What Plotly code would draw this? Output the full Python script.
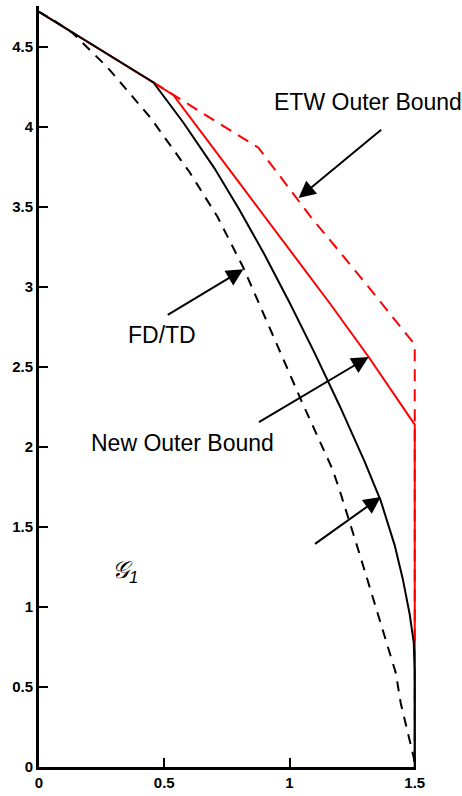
import plotly.graph_objects as go

# Region boundaries (x: rate R1, y: rate R2)
g1_x = [0, 0.456, 0.576, 0.7, 0.8, 0.9, 1.0, 1.1, 1.2, 1.3, 1.364, 1.42, 1.452, 1.48, 1.496, 1.5, 1.5]
g1_y = [4.72, 4.28, 4.028, 3.743, 3.483, 3.203, 2.903, 2.588, 2.258, 1.908, 1.665, 1.385, 1.177, 0.953, 0.777, 0.6, 0]

fdtd_x = [0, 0.06, 0.132, 0.272, 0.444, 0.472, 0.6, 0.712, 0.816, 0.95, 1.05, 1.172, 1.204, 1.28, 1.364, 1.424, 1.444, 1.47, 1.496, 1.5]
fdtd_y = [4.72, 4.665, 4.59, 4.375, 4.06, 4.0, 3.72, 3.44, 3.12, 2.64, 2.28, 1.86, 1.71, 1.33, 0.9, 0.59, 0.4, 0.23, 0.06, 0]

new_x = [0, 0.456, 0.536, 0.8, 1.0, 1.16, 1.316, 1.4, 1.5, 1.5]
new_y = [4.72, 4.28, 4.2, 3.65, 3.23, 2.9, 2.5625, 2.37, 2.14, 0]

etw_x = [0.456, 0.536, 0.7, 0.876, 1.084, 1.3, 1.5, 1.5]
etw_y = [4.28, 4.2, 4.04, 3.87, 3.44, 3.03, 2.64, 0]

x_ticks = [0, 0.5, 1, 1.5]
y_ticks = [0, 0.5, 1, 1.5, 2, 2.5, 3, 3.5, 4, 4.5]

fig = go.Figure()
fig.add_trace(go.Scatter(x=etw_x, y=etw_y, mode="lines",
                         line=dict(color="#ff0000", width=2, dash="12px,8px")))
fig.add_trace(go.Scatter(x=new_x, y=new_y, mode="lines",
                         line=dict(color="#ff0000", width=2)))
fig.add_trace(go.Scatter(x=fdtd_x, y=fdtd_y, mode="lines",
                         line=dict(color="black", width=2, dash="10px,8px")))
fig.add_trace(go.Scatter(x=g1_x, y=g1_y, mode="lines",
                         line=dict(color="black", width=2)))

label_font = dict(family="Liberation Sans, Arial, sans-serif", size=23, color="black")

def arrow(x, y, ax, ay):
    fig.add_annotation(x=x, y=y, ax=ax, ay=ay, xref="x", yref="y", axref="x", ayref="y",
                       text="", showarrow=True, arrowhead=2, arrowsize=1.7,
                       arrowwidth=2, arrowcolor="black")

def label(x, y, text, size=23):
    fig.add_annotation(x=x, y=y, xref="x", yref="y", text=text, showarrow=False,
                       font=dict(label_font, size=size))

arrow(1.036, 3.556, 1.372, 3.99)
label(1.312, 4.156, "ETW Outer Bound")
arrow(0.816, 3.11, 0.508, 2.82)
label(0.492, 2.70, "FD/TD")
arrow(1.316, 2.5625, 0.872, 2.15)
label(0.572, 2.025, "New Outer Bound")
arrow(1.364, 1.6875, 1.096, 1.3875)
label(0.344, 1.22, "<i>𝒢<sub>1</sub></i>", size=24)

tick_font = dict(family="Liberation Sans, Arial, sans-serif", size=15, color="black", weight="bold")

# x range reaches just past 1.5 so the vertical boundary segments are not clipped
fig.update_xaxes(range=[0, 1.505], tickvals=x_ticks, ticktext=[f"{v:g}" for v in x_ticks],
                 showline=True, linewidth=3, linecolor="black", mirror=False,
                 ticks="inside", ticklen=9, tickwidth=2, tickcolor="black",
                 showgrid=False, zeroline=False, tickfont=tick_font)
fig.update_yaxes(range=[0, 4.756], tickvals=y_ticks, ticktext=[f"{v:g}" for v in y_ticks],
                 showline=True, linewidth=3, linecolor="black",
                 ticks="inside", ticklen=9, tickwidth=2, tickcolor="black",
                 showgrid=False, zeroline=False, tickfont=tick_font)

fig.update_layout(width=462, height=796, showlegend=False,
                  margin=dict(l=39, r=46, t=6, b=29),
                  plot_bgcolor="white", paper_bgcolor="white")

fig.write_html("out.html")
